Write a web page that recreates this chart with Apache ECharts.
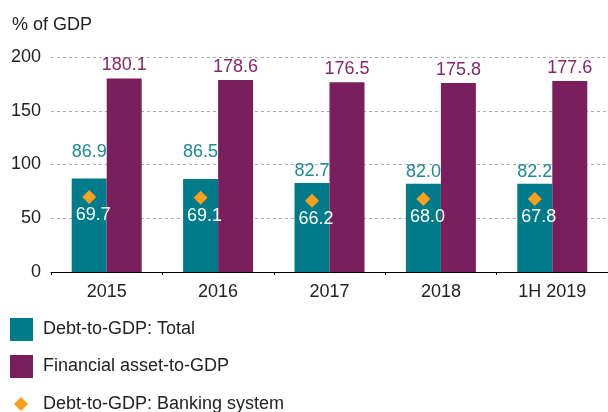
<!DOCTYPE html>
<html>
<head>
<meta charset="utf-8">
<script src="https://cdn.jsdelivr.net/npm/echarts@6/dist/echarts.min.js"></script>
<style>
html,body{margin:0;padding:0;background:#fff;}
#c{width:608px;height:412px;}
</style>
</head>
<body>
<div id="c"></div>
<script>
const categories = ['2015', '2016', '2017', '2018', '1H 2019'];
const debtTotal = [86.9, 86.5, 82.7, 82.0, 82.2];
const financialAsset = [180.1, 178.6, 176.5, 175.8, 177.6];
const debtBanking = [69.7, 69.1, 66.2, 68.0, 67.8];
const yTicks = [0, 50, 100, 150, 200];

const TEAL = '#007B8A', PURPLE = '#7B1E5D', ORANGE = '#F9A11B';
const FONT = 'Liberation Sans, Arial, Helvetica, sans-serif';
const fmt1 = p => Number(p.value).toFixed(1);

const chart = echarts.init(document.getElementById('c'), null, {renderer: 'canvas'});

const totalData = debtTotal.map((v, i) => {
  const d = {value: v};
  if (v > 85) d.label = {offset: [0, -15]};
  return d;
});

chart.setOption({
  animation: false,
  textStyle: {fontFamily: FONT},
  title: {
    text: '% of GDP', left: 12, top: 16, padding: 0,
    textStyle: {fontSize: 18, fontWeight: 'normal', color: '#222', fontFamily: FONT}
  },
  grid: {left: 51, top: 57, width: 563, height: 215, containLabel: false},
  legend: [
    {
      orient: 'vertical', left: 10, top: 318, padding: 0,
      itemWidth: 23, itemHeight: 23, itemGap: 14,
      data: [{name: 'Debt-to-GDP: Total', icon: 'rect'}, {name: 'Financial asset-to-GDP', icon: 'rect'}],
      textStyle: {fontSize: 18, color: '#222', fontFamily: FONT, padding: [0, 0, 0, 5]}
    },
    {
      orient: 'vertical', left: 14, top: 395, padding: 0,
      itemWidth: 14, itemHeight: 14,
      data: [{name: 'Debt-to-GDP: Banking system', icon: 'diamond'}],
      itemStyle: {opacity: 1},
      textStyle: {fontSize: 18, color: '#222', fontFamily: FONT, padding: [0, 0, 0, 10]}
    }
  ],
  xAxis: {
    type: 'category', data: categories,
    axisLine: {lineStyle: {color: '#000', width: 1}},
    axisTick: {show: true, length: 3, lineStyle: {color: '#000'}},
    axisLabel: {fontSize: 18, color: '#222', margin: 11, fontFamily: FONT}
  },
  yAxis: {
    type: 'value', min: yTicks[0], max: yTicks[yTicks.length - 1], interval: yTicks[1] - yTicks[0],
    axisLine: {show: false}, axisTick: {show: false},
    axisLabel: {fontSize: 18, color: '#222', margin: 10, fontFamily: FONT},
    splitLine: {lineStyle: {color: '#aaa', type: [3, 3], width: 1}}
  },
  series: [
    {
      name: 'Debt-to-GDP: Total', type: 'bar', data: totalData,
      barWidth: 35, barGap: '0%',
      itemStyle: {color: TEAL},
      label: {show: true, position: 'top', distance: 3, fontSize: 18, color: '#1A8996', fontFamily: FONT, formatter: fmt1}
    },
    {
      name: 'Financial asset-to-GDP', type: 'bar', data: financialAsset,
      barWidth: 35, barGap: '0%',
      itemStyle: {color: PURPLE},
      label: {show: true, position: 'top', distance: 4, fontSize: 18, color: '#86286A', fontFamily: FONT, formatter: fmt1}
    },
    {
      name: 'Debt-to-GDP: Banking system', type: 'scatter', data: debtBanking,
      symbol: 'diamond', symbolSize: 14, symbolOffset: [-17.5, 0],
      itemStyle: {color: ORANGE, opacity: 1},
      label: {show: true, position: 'bottom', distance: 2, offset: [4, 0], fontSize: 18, color: '#fff', fontFamily: FONT, formatter: fmt1},
      z: 5
    }
  ]
});
</script>
</body>
</html>
